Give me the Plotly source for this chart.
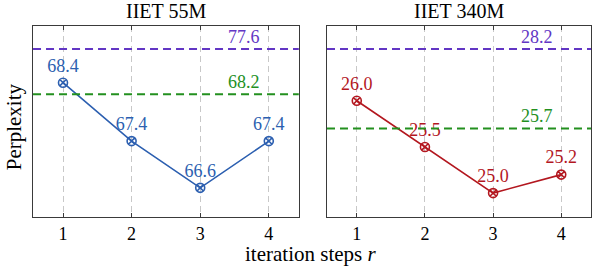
import plotly.graph_objects as go

# ---- data ----
steps = [1, 2, 3, 4]
ppl_55m = [68.4, 67.4, 66.6, 67.4]
ppl_340m = [26.0, 25.5, 25.0, 25.2]
panel_titles = ["IIET 55M", "IIET 340M"]
baseline_top = [77.6, 28.2]      # purple reference (drawn at top, axis-broken)
baseline_mid = [68.2, 25.7]      # green reference
tick_labels = ["1", "2", "3", "4"]

# ---- style ----
FONT = "Liberation Serif"
BLUE = "#2c5fb0"
RED = "#b3171f"
PURPLE = "#6236c4"
GREEN = "#23901f"
FRAME = "#3a3a3a"
TOP_FRAC = 0.88

fig = go.Figure()

panels = [
    dict(vals=ppl_55m, color=BLUE, xd=[0.0556, 0.503], yr=[66.1, 69.37], ax="", i=0),
    dict(vals=ppl_340m, color=RED, xd=[0.5505, 0.995], yr=[24.74, 26.81], ax="2", i=1),
]
YD = [0.19, 0.903]

for p in panels:
    i = p["i"]
    fig.add_trace(go.Scatter(
        x=steps, y=p["vals"], mode="lines+markers+text",
        line=dict(color=p["color"], width=1.6),
        marker=dict(symbol="circle-x-open", size=9, color=p["color"], line=dict(width=1.6, color=p["color"])),
        text=[f"{v:.1f}" for v in p["vals"]], textposition="top center",
        textfont=dict(family=FONT, size=18, color=p["color"]),
        xaxis="x" + p["ax"], yaxis="y" + p["ax"], showlegend=False, cliponaxis=False,
        hoverinfo="skip",
    ))
    xr = "x" + p["ax"]
    yr = "y" + p["ax"]
    # purple reference at top of the (broken) axis
    fig.add_shape(type="line", xref=xr + " domain", yref=yr + " domain", x0=0, x1=1,
                  y0=TOP_FRAC, y1=TOP_FRAC, line=dict(color=PURPLE, width=2, dash="8px,5px"))
    fig.add_annotation(x=3.64, y=TOP_FRAC, xref=xr, yref=yr + " domain", text=f"{baseline_top[i]:.1f}",
                       showarrow=False, yanchor="bottom", yshift=0,
                       font=dict(family=FONT, size=18, color=PURPLE))
    # green reference
    fig.add_shape(type="line", xref=xr + " domain", yref=yr, x0=0, x1=1,
                  y0=baseline_mid[i], y1=baseline_mid[i], line=dict(color=GREEN, width=2, dash="8px,5px"))
    fig.add_annotation(x=3.64, y=baseline_mid[i], xref=xr, yref=yr, text=f"{baseline_mid[i]:.1f}",
                       showarrow=False, yanchor="bottom", yshift=0,
                       font=dict(family=FONT, size=18, color=GREEN))
    # panel title
    fig.add_annotation(x=0.5, y=1, xref=xr + " domain", yref="paper", text=panel_titles[i],
                       showarrow=False, yanchor="top", yshift=2,
                       font=dict(family=FONT, size=20, color="black"))

    xkw = dict(domain=p["xd"], range=[0.563, 4.437], tickvals=steps, ticktext=tick_labels,
               showgrid=True, gridcolor="#c8c8c8", griddash="6px,4px", gridwidth=1,
               showline=True, linecolor=FRAME, linewidth=1.3, mirror="ticks",
               ticks="inside", ticklen=4, tickcolor=FRAME, zeroline=False, automargin=False,
               tickfont=dict(family=FONT, size=18, color="black"), anchor="y" + p["ax"])
    ykw = dict(domain=YD, range=p["yr"], showticklabels=False, ticks="", showgrid=False,
               showline=True, linecolor=FRAME, linewidth=1.3, mirror=True, zeroline=False,
               automargin=False, anchor="x" + p["ax"])
    fig.update_layout(**{"xaxis" + p["ax"]: xkw, "yaxis" + p["ax"]: ykw})

fig.add_annotation(x=0.522, y=0, xref="paper", yref="paper", text="iteration steps <i>r</i>",
                   showarrow=False, yanchor="bottom", yshift=0,
                   font=dict(family=FONT, size=21, color="black"))
fig.add_annotation(x=0, y=0.525, xref="paper", yref="paper", text="Perplexity", textangle=-90,
                   showarrow=False, xanchor="left", xshift=0,
                   font=dict(family=FONT, size=21, color="black"))

fig.update_layout(width=594, height=268, margin=dict(l=0, r=0, t=0, b=0, autoexpand=False),
                  paper_bgcolor="white", plot_bgcolor="white", hovermode=False)
fig.write_html("out.html", config={"displayModeBar": False},
               post_script="document.body.style.margin='0';document.body.style.overflow='hidden';")
